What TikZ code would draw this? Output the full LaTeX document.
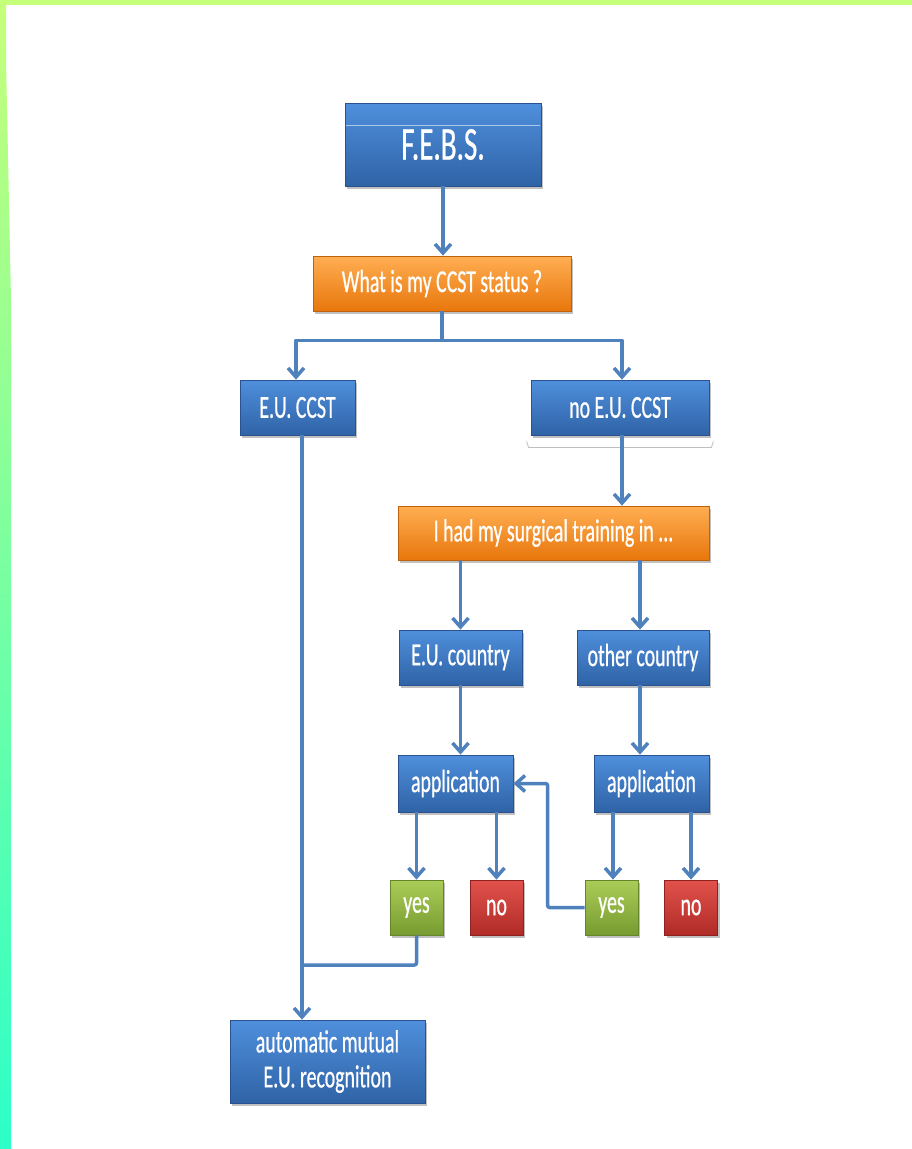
\documentclass[tikz,border=0pt]{standalone}
\usepackage{fontspec}
\newfontfamily\bx[FakeStretch=0.62,FakeBold=0.6]{Carlito}
\usetikzlibrary{arrows.meta,shadows,calc}
\definecolor{lineblue}{HTML}{4F81BD}
\definecolor{btop}{HTML}{4F8FDC}
\definecolor{bbot}{HTML}{2F63A6}
\definecolor{bdraw}{HTML}{2A5290}
\definecolor{otop}{HTML}{FFAE52}
\definecolor{obot}{HTML}{E8770C}
\definecolor{odraw}{HTML}{C0620A}
\definecolor{gtop}{HTML}{AACD58}
\definecolor{gbot}{HTML}{789B30}
\definecolor{gdraw}{HTML}{66852A}
\definecolor{rtop}{HTML}{E2524C}
\definecolor{rbot}{HTML}{B02B27}
\definecolor{rdraw}{HTML}{8E2220}
\definecolor{ftop}{HTML}{C6FF7A}
\definecolor{fmid}{HTML}{88FFA0}
\definecolor{fbot}{HTML}{2CFFC8}
\tikzset{
  box/.style={rectangle, inner sep=0pt, text=white, align=center,
    font=\bx\fontsize{32}{36}\selectfont, line width=0.8pt,
    drop shadow={shadow xshift=2pt, shadow yshift=-3pt, opacity=0.35, fill=black!70}},
  bluebox/.style={box, draw=bdraw, top color=btop, bottom color=bbot},
  orangebox/.style={box, draw=odraw, top color=otop, bottom color=obot},
  greenbox/.style={box, draw=gdraw, top color=gtop, bottom color=gbot},
  redbox/.style={box, draw=rdraw, top color=rtop, bottom color=rbot},
  conn/.style={draw=lineblue, line width=3.5pt, line join=round},
  arr/.style={conn, -{Straight Barb[length=9pt,width=16pt,line width=3.5pt]}},
}
\begin{document}
\begin{tikzpicture}[x=1pt,y=-1pt]
\fill[white] (0,0) rectangle (912,1149);
\useasboundingbox (0,0) rectangle (912,1149);
% frame
\fill[ftop] (0,0) rectangle (912,5);
\shade[top color=ftop, middle color=fmid, bottom color=fbot] (0,0) -- (6,0) -- (6,60) -- (11,300) -- (11,1149) -- (0,1149) -- cycle;

% nodes
\node[bluebox, minimum width=196pt, minimum height=83pt, font=\bx\fontsize{47}{52}\selectfont] (febs) at (443,144.5) {F.E.B.S.};
\draw[white, opacity=0.55, line width=0.8pt] ($(febs.north west)+(1,23)$) -- ($(febs.north east)+(-1,23)$);
\node[orangebox, minimum width=258pt, minimum height=55pt] (q1) at (442,283.5) {What is my CCST status ?};
\node[bluebox, minimum width=115pt, minimum height=55pt] (eu) at (297.5,407.5) {E.U. CCST};
\node[bluebox, minimum width=178pt, minimum height=55pt] (noeu) at (620,407.5) {no E.U. CCST};
\draw[black!25, line width=0.8pt] ($(noeu.south west)+(-4,6)$) -- ($(noeu.south west)+(-2,12)$) -- ($(noeu.south east)+(2,12)$) -- ($(noeu.south east)+(4,6)$);
\node[orangebox, minimum width=311pt, minimum height=54pt] (q2) at (553.5,533) {I had my surgical training in ...};
\node[bluebox, minimum width=123pt, minimum height=55pt] (euc) at (460.5,657.5) {E.U. country};
\node[bluebox, minimum width=132pt, minimum height=55pt] (oth) at (643,657.5) {other country};
\node[bluebox, minimum width=115pt, minimum height=57pt] (app1) at (455.5,783.5) {application};
\node[bluebox, minimum width=115pt, minimum height=57pt] (app2) at (651.5,783.5) {application};
\node[greenbox, minimum width=53pt, minimum height=55pt] (yes1) at (416.5,907.5) {yes};
\node[redbox, minimum width=53pt, minimum height=55pt] (no1) at (496.5,907.5) {no};
\node[greenbox, minimum width=53pt, minimum height=55pt] (yes2) at (611.5,907.5) {yes};
\node[redbox, minimum width=53pt, minimum height=55pt] (no2) at (691,907.5) {no};
\node[bluebox, minimum width=195pt, minimum height=83pt, font=\bx\fontsize{32}{35}\selectfont] (auto) at (327.5,1061.5) {automatic mutual\\E.U. recognition};

% connectors
\draw[arr] (febs.south) -- (febs.south |- q1.north);
\coordinate (split) at ($(q1.south)+(0,29)$);
\draw[conn] (q1.south) -- (split);
\draw[arr] (split) -| ([xshift=-1.5pt]eu.north);
\draw[arr] (split) -| ([xshift=2pt]noeu.north);
\draw[arr] ([xshift=2pt]noeu.south) -- ([xshift=2pt]noeu.south |- q2.north);
\draw[arr] (euc.north |- q2.south) -- (euc.north);
\draw[arr] ([xshift=-3pt]oth.north |- q2.south) -- ([xshift=-3pt]oth.north);
\draw[arr] (euc.south) -- (euc.south |- app1.north);
\draw[arr] ([xshift=-3pt]oth.south) -- ([xshift=-3pt]oth.south |- app2.north);
\draw[arr] (yes1.north |- app1.south) -- (yes1.north);
\draw[arr] (no1.north |- app1.south) -- (no1.north);
\draw[arr] ([xshift=1.5pt]yes2.north |- app2.south) -- ([xshift=1.5pt]yes2.north);
\draw[arr] (no2.north |- app2.south) -- (no2.north);
\draw[arr, rounded corners=2pt] (yes2.west) -- ++(-37,0) |- (app1.east);
\coordinate (euline) at ([xshift=4.5pt]eu.south);
\draw[arr] (euline) -- (euline |- auto.north);
\coordinate (join) at (302,965);
\draw[conn, rounded corners=2pt] (yes1.south) |- (join);
\end{tikzpicture}
\end{document}
